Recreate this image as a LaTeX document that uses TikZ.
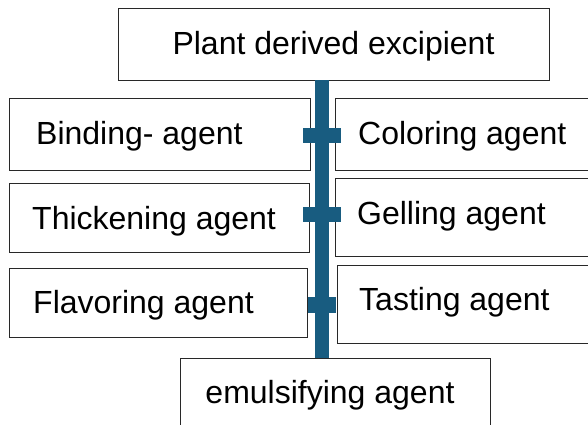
\documentclass[tikz,border=0pt]{standalone}
\usepackage{fontspec}
\setmainfont{Liberation Sans}
\definecolor{spine}{RGB}{24,92,128}
\definecolor{edge}{RGB}{40,40,40}
\begin{document}
\begin{tikzpicture}[x=1pt,y=-1pt,
  box/.style={draw=edge,line width=1pt,fill=white,rectangle,inner sep=0pt},
  lbl/.style={font=\fontsize{32}{36}\selectfont,inner sep=0pt,text=black},
  bar/.style={fill=spine,draw=none,inner sep=0pt,rectangle}]
\clip (0,0) rectangle (588,424);
\useasboundingbox (0,0) rectangle (588,424);
\fill[white] (0,0) rectangle (588,424);
% boxes
\node[box,minimum width=431pt,minimum height=72pt] (top) at (333.5,44) {};
\node[box,minimum width=301pt,minimum height=72pt] (l1) at (160,134.5) {};
\node[box,minimum width=260pt,minimum height=72pt] (r1) at (465,134.5) {};
\node[box,minimum width=300pt,minimum height=69pt] (l2) at (159.5,217.5) {};
\node[box,minimum width=260pt,minimum height=78pt] (r2) at (465,217) {};
\node[box,minimum width=298pt,minimum height=69pt] (l3) at (158,302.5) {};
\node[box,minimum width=256pt,minimum height=78pt] (r3) at (465,304) {};
\node[box,minimum width=310pt,minimum height=74pt] (bot) at (335,395) {};
% spine
\coordinate (sa) at (322,80);
\coordinate (sb) at (322,358);
\draw[spine,line width=14pt] (sa) -- (sb);
% cross bars
\node[bar,minimum width=38pt,minimum height=15pt] (c1) at (322,135.5) {};
\node[bar,minimum width=38pt,minimum height=15pt] (c2) at (322,214.5) {};
\node[bar,minimum width=28pt,minimum height=16pt] (c3) at (322,305) {};
% labels
\node[lbl] (ttop) at (333.5,46) {Plant derived excipient};
\node[lbl,anchor=west] (tl1) at (36,136) {Binding- agent};
\node[lbl,anchor=west] (tr1) at (358,136) {Coloring agent};
\node[lbl,anchor=west] (tl2) at (32,221) {Thickening agent};
\node[lbl,anchor=west] (tr2) at (357,216) {Gelling agent};
\node[lbl,anchor=west] (tl3) at (33,305) {Flavoring agent};
\node[lbl,anchor=west] (tr3) at (359,302) {Tasting agent};
\node[lbl] (tbot) at (330,395) {emulsifying agent};
\end{tikzpicture}
\end{document}
